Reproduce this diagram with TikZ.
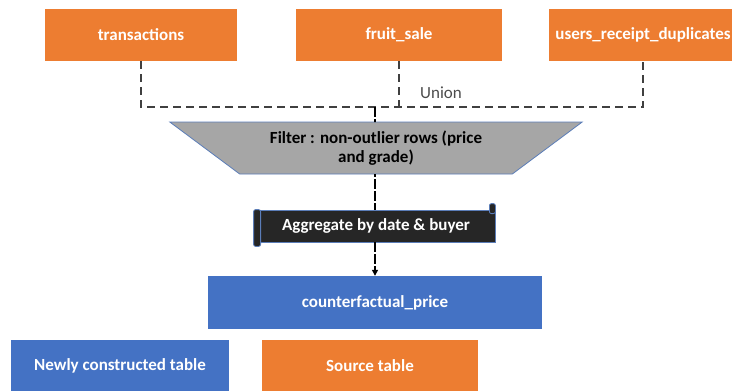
\documentclass[tikz,border=0pt]{standalone}
\usepackage{fontspec}
\setmainfont{Carlito}
\usetikzlibrary{shapes.geometric,arrows.meta}

\definecolor{srcorange}{HTML}{ED7D31}
\definecolor{newblue}{HTML}{4472C4}
\definecolor{filtergray}{HTML}{A6A6A6}
\definecolor{aggblack}{HTML}{262626}
\definecolor{edgeblue}{HTML}{5B7DB8}
\newcommand{\boxfont}{\fontsize{17}{19}\selectfont}

\begin{document}
\begin{tikzpicture}[x=1pt,y=-1pt,font=\boxfont]
    % `source' is used for the orange input tables, `newtable' for the blue result.
    % `unionline' is the dashed union connector, `flowline' the thin dashed flow.
    \tikzstyle{tablebox} = [minimum height=52pt,inner sep=0pt,text=white,font=\boxfont\bfseries]
    \tikzstyle{source} = [tablebox,fill=srcorange]
    \tikzstyle{newtable} = [tablebox,fill=newblue]
    \tikzstyle{filterbox} = [trapezium,trapezium stretches=true,shape border rotate=180,
        trapezium angle=32.4,minimum width=413pt,minimum height=52pt,fill=filtergray,
        draw=edgeblue,line width=0.8pt,align=center,font=\boxfont\bfseries,inner sep=0pt]
    \tikzstyle{aggbox} = [fill=aggblack,draw=edgeblue,line width=0.8pt,minimum width=238pt,
        minimum height=32pt,text=white,font=\boxfont\bfseries,inner sep=0pt]
    \tikzstyle{scrollend} = [fill=aggblack,draw=edgeblue,line width=0.8pt,rounded corners=2pt]
    \tikzstyle{unionline} = [draw=black!75,line width=2.2pt,dash pattern=on 8pt off 5pt]
    \tikzstyle{flowline} = [draw=black,line width=1.2pt,dash pattern=on 10pt off 2pt]
    %
    \useasboundingbox (0,0) rectangle (732,391);
    \clip (0,0) rectangle (732,391);
    %
    \node[source,minimum width=192pt] (transactions) at (141,35) {transactions};
    \node[source,minimum width=206pt] (fruitsale) at (399,35) {fruit\_sale};
    \node[source,minimum width=188pt] (receipts) at (643,35) {users\_receipt\_duplicates};
    %
    \node[filterbox] (filter) at (376,148) {Filter : non-outlier rows (price\\and grade)};
    \node[aggbox] (agg) at (376,226) {};
    \node[newtable,minimum width=334pt,minimum height=53pt] (cfprice) at (375,302.5) {counterfactual\_price};
    %
    \node[newtable,minimum width=218pt] (newlegend) at (120,366) {Newly constructed table};
    \node[source,minimum width=216pt] (srclegend) at (370,366) {Source table};
    %
    % Union of the three source tables.
    \coordinate (u1) at (transactions.south |- 0,107);
    \coordinate (u2) at (receipts.south |- 0,107);
    \coordinate (u3) at (fruitsale.south |- 0,107);
    \coordinate (ujoin) at (375,107);
    \draw[unionline] (transactions.south) -- (u1) -- (u2) -- (receipts.south);
    \draw[unionline] (fruitsale.south) -- (u3);
    \node[text=black!70] (union) at (441,93) {Union};
    %
    % Flow down through filter and aggregation.
    \begin{scope}
      \clip (0,107) rectangle (732,122) (0,174) rectangle (732,391);
      \draw[flowline] (ujoin) -- (ujoin |- agg.north);
    \end{scope}
    \draw[flowline,-{Triangle[width=6pt,length=6pt]}] (ujoin |- agg.south) -- (ujoin |- cfprice.north);
    %
    % Scroll ends and text of the aggregation step.
    \draw[scrollend] ([xshift=-3pt]agg.north west) rectangle ([xshift=4pt,yshift=-4pt]agg.south west);
    \draw[scrollend] ([xshift=-6pt,yshift=6pt]agg.north east) rectangle ([yshift=-4pt]agg.north east);
    \node[text=white,font=\boxfont\bfseries] (aggtext) at (agg.center) {Aggregate by date \& buyer};
\end{tikzpicture}
\end{document}
